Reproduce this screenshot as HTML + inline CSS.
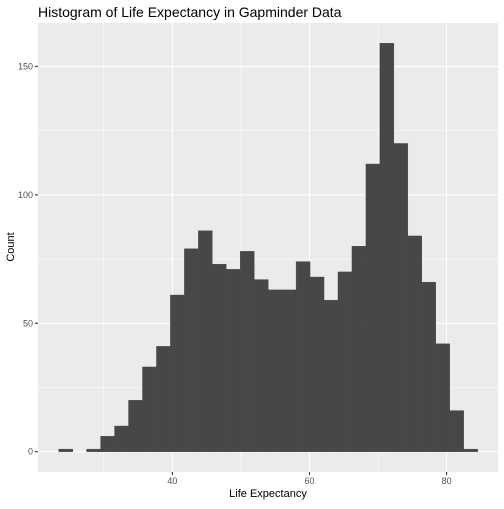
<!DOCTYPE html>
<html><head><meta charset="utf-8"><style>
body{margin:0;background:#fff;}
svg text{font-family:"Liberation Sans",Arial,sans-serif;}
</style></head><body>
<svg width="504" height="504" xmlns="http://www.w3.org/2000/svg">
<rect width="504" height="504" fill="#fff"/>
<text x="38" y="17" font-size="14" fill="#000">Histogram of Life Expectancy in Gapminder Data</text>
<g id="plot"></g>
<text x="268" y="497" font-size="11" text-anchor="middle" fill="#000">Life Expectancy</text>
<text x="0" y="0" font-size="11" text-anchor="middle" fill="#000" transform="translate(14,247) rotate(-90)">Count</text>
</svg>
<script>
const binStart = 23.42;
const binWidth = 2.037;
const counts = [1,0,1,6,10,20,33,41,61,79,86,73,71,78,67,63,63,74,68,59,70,80,112,159,120,84,66,42,16,1];
const xTicks = [40,60,80];
const xMinor = [30,50,70];
const yTicks = [0,50,100,150];
const yMinor = [25,75,125];

const L=38,R=498,T=23,B=472;
const xMin=20.4,xMax=87.5,yMin=-7.9,yMax=166.9;
const sx=v=>L+(v-xMin)/(xMax-xMin)*(R-L);
const sy=v=>B-(v-yMin)/(yMax-yMin)*(B-T);
const NS='http://www.w3.org/2000/svg';
const g=document.getElementById('plot');
function mk(tag,attrs){const e=document.createElementNS(NS,tag);for(const k in attrs)e.setAttribute(k,attrs[k]);g.appendChild(e);return e;}
let e=mk('rect',{x:L,y:T,width:R-L,height:B-T,fill:'#ebebeb'});


xMinor.forEach(v=>{const l=mk('line',{x1:sx(v),x2:sx(v),y1:T,y2:B,stroke:'#fff','stroke-width':0.55});

});
yMinor.forEach(v=>{const l=mk('line',{x1:L,x2:R,y1:sy(v),y2:sy(v),stroke:'#fff','stroke-width':0.55});

});
xTicks.forEach(v=>{const l=mk('line',{x1:sx(v),x2:sx(v),y1:T,y2:B,stroke:'#fff','stroke-width':1.1});


const t=mk('line',{x1:sx(v),x2:sx(v),y1:B,y2:B+3,stroke:'#333','stroke-width':1.1});


const tx=mk('text',{x:sx(v),y:B+12,'font-size':9,'text-anchor':'middle',fill:'#4d4d4d'});tx.textContent=v;

});
yTicks.forEach(v=>{const l=mk('line',{x1:L,x2:R,y1:sy(v),y2:sy(v),stroke:'#fff','stroke-width':1.1});


const t=mk('line',{x1:L-3,x2:L,y1:sy(v),y2:sy(v),stroke:'#333','stroke-width':1.1});


const tx=mk('text',{x:L-5,y:sy(v)+3,'font-size':9,'text-anchor':'end',fill:'#4d4d4d'});tx.textContent=v;

});
counts.forEach((c,i)=>{const x0=sx(binStart+i*binWidth),x1=sx(binStart+(i+1)*binWidth);
const r=mk('rect',{x:x0,y:sy(c),width:x1-x0,height:Math.max(sy(0)-sy(c),0),fill:'#474747',stroke:'#474747','stroke-width':0.4});

});
</script>
</body></html>
